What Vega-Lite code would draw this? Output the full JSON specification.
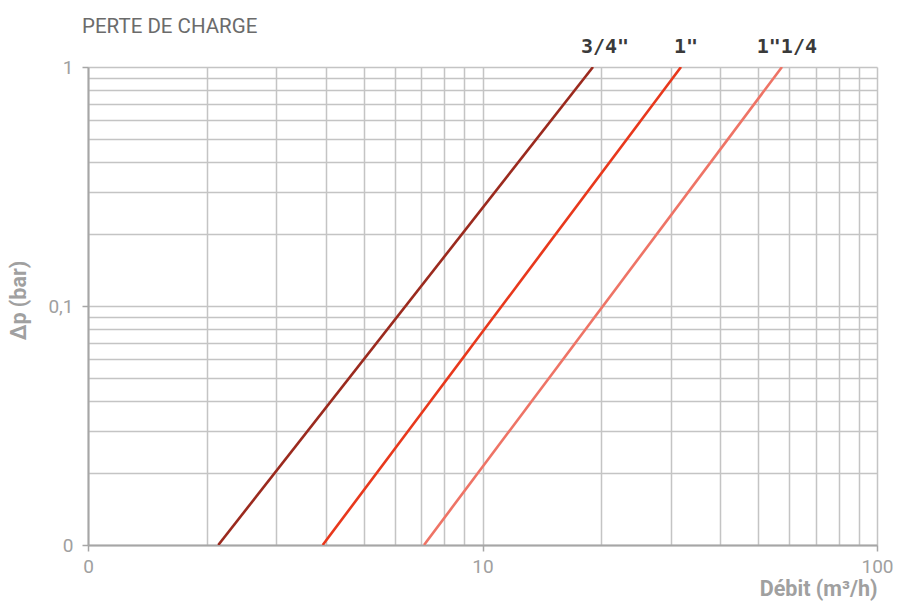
{
  "$schema": "https://vega.github.io/schema/vega-lite/v6.json",
  "width": 789,
  "height": 478,
  "autosize": {"type": "none"},
  "padding": {"left": 88, "top": 67, "right": 21, "bottom": 56},
  "background": "white",
  "title": {
    "text": "PERTE DE CHARGE",
    "anchor": "start",
    "frame": "group",
    "font": "Roboto",
    "fontSize": 20.5,
    "fontWeight": "normal",
    "color": "#6b6b6b",
    "baseline": "alphabetic",
    "offset": 5,
    "dy": 21,
    "dx": -6
  },
  "config": {"view": {"stroke": null}},
  "datasets": {
    "lines": [
      {"diametre": "3/4\"", "debit": 2.139, "dp": 0.01},
      {"diametre": "3/4\"", "debit": 19.06, "dp": 1},
      {"diametre": "1\"", "debit": 3.935, "dp": 0.01},
      {"diametre": "1\"", "debit": 31.86, "dp": 1},
      {"diametre": "1\"1/4", "debit": 7.108, "dp": 0.01},
      {"diametre": "1\"1/4", "debit": 57.43, "dp": 1}
    ],
    "labels": [
      {"diametre": "3/4\"", "debit": 20.44, "dp": 1},
      {"diametre": "1\"", "debit": 32.8, "dp": 1},
      {"diametre": "1\"1/4", "debit": 59.1, "dp": 1}
    ]
  },
  "layer": [
    {
      "data": {"name": "lines"},
      "mark": {"type": "line", "strokeWidth": 2.6, "clip": true},
      "encoding": {
        "x": {
          "field": "debit",
          "type": "quantitative",
          "scale": {"type": "log", "domain": [1, 100], "nice": false},
          "axis": {
            "values": [1, 2, 3, 4, 5, 6, 7, 8, 9, 10, 20, 30, 40, 50, 60, 70, 80, 90, 100],
            "labelExpr": "datum.value == 1 ? '0' : (datum.value == 10 ? '10' : (datum.value == 100 ? '100' : ''))",
            "labelOverlap": false,
            "labelFlush": false,
            "labelFont": "Roboto",
            "labelFontSize": 19,
            "labelColor": "#a0a0a0",
            "labelPadding": 6,
            "grid": true,
            "gridColor": "#c4c4c4",
            "gridWidth": 1.5,
            "domainColor": "#a6a6a6",
            "domainWidth": 2,
            "tickColor": "#a6a6a6",
            "tickWidth": 1.5,
            "tickSize": 6,
            "tickOpacity": {"condition": {"test": "datum.value == 1 || datum.value == 10 || datum.value == 100", "value": 1}, "value": 0},
            "title": "Débit (m³/h)",
            "titleFont": "Roboto",
            "titleFontSize": 21.5,
            "titleFontWeight": "bold",
            "titleColor": "#a0a0a0",
            "titleAlign": "right",
            "titleBaseline": "alphabetic",
            "titleX": 789,
            "titleY": 50
          }
        },
        "y": {
          "field": "dp",
          "type": "quantitative",
          "scale": {"type": "log", "domain": [0.01, 1], "nice": false},
          "axis": {
            "values": [0.01, 0.02, 0.03, 0.04, 0.05, 0.06, 0.07, 0.08, 0.09, 0.1, 0.2, 0.3, 0.4, 0.5, 0.6, 0.7, 0.8, 0.9, 1],
            "labelExpr": "datum.value == 1 ? '1' : (datum.value == 0.1 ? '0,1' : (datum.value == 0.01 ? '0' : ''))",
            "labelOverlap": false,
            "labelFlush": false,
            "labelFont": "Roboto",
            "labelFontSize": 19,
            "labelColor": "#a0a0a0",
            "labelPadding": 9,
            "grid": true,
            "gridColor": "#c4c4c4",
            "gridWidth": 1.5,
            "domainColor": "#a6a6a6",
            "domainWidth": 2,
            "tickColor": "#a6a6a6",
            "tickWidth": 1.5,
            "tickSize": 6,
            "tickOpacity": {"condition": {"test": "datum.value == 1 || datum.value == 0.1 || datum.value == 0.01", "value": 1}, "value": 0},
            "title": "Δp (bar)",
            "titleFont": "Roboto",
            "titleFontSize": 21.5,
            "titleFontWeight": "bold",
            "titleColor": "#a0a0a0",
            "titleAngle": -90,
            "titleAlign": "center",
            "titleBaseline": "middle",
            "titleX": -69,
            "titleY": 233
          }
        },
        "color": {
          "field": "diametre",
          "type": "nominal",
          "scale": {"domain": ["3/4\"", "1\"", "1\"1/4"], "range": ["#9b2a1e", "#e8381c", "#ee7466"]},
          "legend": null
        }
      }
    },
    {
      "data": {"name": "labels"},
      "mark": {
        "type": "text",
        "font": "DejaVu Sans Mono",
        "fontSize": 20,
        "fontWeight": "bold",
        "color": "#3a3a3a",
        "align": "center",
        "baseline": "alphabetic",
        "dy": -14
      },
      "encoding": {
        "x": {"field": "debit", "type": "quantitative"},
        "y": {"field": "dp", "type": "quantitative"},
        "text": {"field": "diametre", "type": "nominal"}
      }
    }
  ]
}
